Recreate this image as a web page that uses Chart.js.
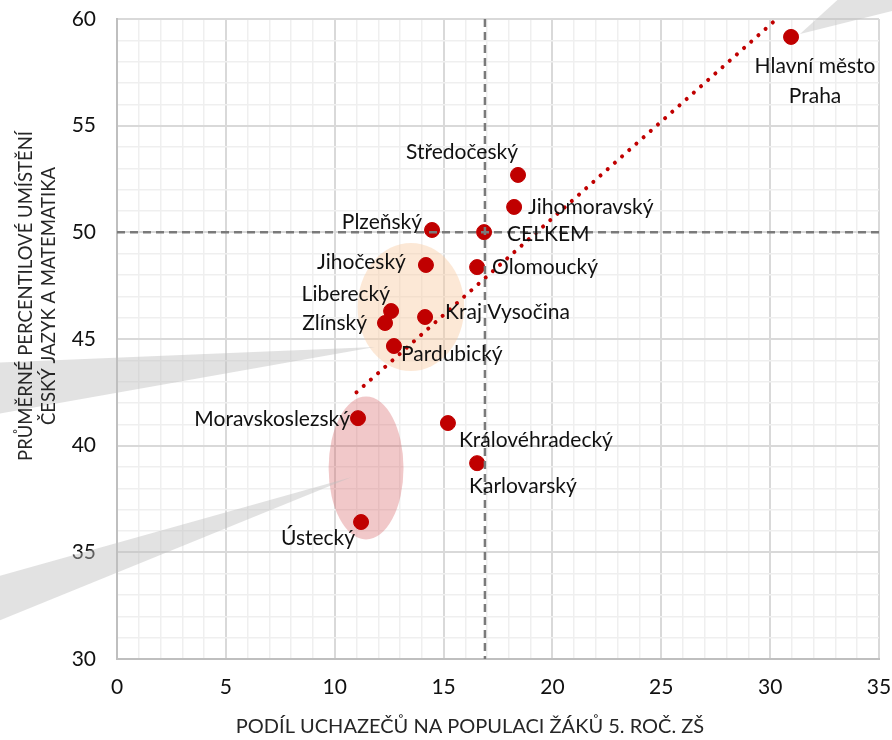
<!DOCTYPE html>
<html>
<head>
<meta charset="utf-8">
<script src="https://cdn.jsdelivr.net/npm/chart.js@4.4.1/dist/chart.umd.min.js"></script>
<style>
  body { margin: 0; background: #fff; }
  canvas { display: block; }
</style>
</head>
<body>
<canvas id="scatter" width="892" height="740"></canvas>
<script>
// kraje
const regions = ['Hlavní město Praha', 'Středočeský', 'Jihomoravský', 'Plzeňský', 'CELKEM', 'Jihočeský',
  'Olomoucký', 'Liberecký', 'Zlínský', 'Kraj Vysočina', 'Pardubický', 'Moravskoslezský',
  'Královéhradecký', 'Karlovarský', 'Ústecký'];
// podíl uchazečů (%)
const share = [30.96, 18.42, 18.24, 14.47, 16.86, 14.19, 16.54, 12.59, 12.31, 14.15, 12.72, 11.07, 15.20, 16.54, 11.21];
// průměrné percentilové umístění
const percentile = [59.16, 52.69, 51.19, 50.11, 50.01, 48.47, 48.37, 46.31, 45.75, 46.03, 44.67, 41.29, 41.06, 39.18, 36.42];

// lineární trend
const trendX = [11.0, 30.3];
const trendY = [42.5, 60.0];

// průměr (CELKEM)
const refX = 16.9;
const refY = 50;

const xTicks = [0, 5, 10, 15, 20, 25, 30, 35];
const yTicks = [30, 35, 40, 45, 50, 55, 60];

// label placement: [dx, dy, align]
const labelPos = [
  [24, 29, 'center'], [-56, -23, 'center'], [14, 0, 'left'], [-10, -8, 'right'], [23, 2, 'left'],
  [-20, -3, 'right'], [15, 0, 'left'], [-1, -17, 'right'], [-18, 0, 'right'], [20, -5, 'left'],
  [7, 8, 'left'], [-8, 1, 'right'], [11, 17, 'left'], [-8, 23, 'left'], [-6, 16, 'right']
];

// zvýraznění skupin (data coords)
const ellipses = [
  { cx: 13.5, cy: 46.5, rx: 2.45, ry: 3.0, color: 'rgba(248, 203, 163, 0.45)' },
  { cx: 11.44, cy: 38.95, rx: 1.72, ry: 3.35, color: 'rgba(214, 96, 100, 0.35)' }
];
// callout wedges (data coords, may run off the plot)
const wedges = [
  [[11.85, 44.62], [-5.4, 43.9], [-5.4, 41.5]],
  [[10.79, 38.53], [-5.4, 33.9], [-5.4, 31.8]],
  [[31.37, 59.3], [33.1, 60.9], [35.7, 60.9], [35.7, 60.4]]
];

const FONT = 'Lato, "Open Sans", sans-serif';

const deco = {
  id: 'deco',
  beforeDatasetsDraw(chart) {
    const { ctx, scales: { x, y } } = chart;
    ctx.save();
    ellipses.forEach(e => {
      const cx = x.getPixelForValue(e.cx), cy = y.getPixelForValue(e.cy);
      const rx = Math.abs(x.getPixelForValue(e.cx + e.rx) - cx);
      const ry = Math.abs(y.getPixelForValue(e.cy + e.ry) - cy);
      ctx.fillStyle = e.color;
      ctx.beginPath();
      ctx.ellipse(cx, cy, rx, ry, 0, 0, Math.PI * 2);
      ctx.fill();
    });
    ctx.fillStyle = 'rgba(190, 190, 190, 0.45)';
    wedges.forEach(w => {
      ctx.beginPath();
      w.forEach((p, i) => {
        const px = x.getPixelForValue(p[0]), py = y.getPixelForValue(p[1]);
        if (i === 0) ctx.moveTo(px, py); else ctx.lineTo(px, py);
      });
      ctx.closePath();
      ctx.fill();
    });

    // axis titles
    ctx.fillStyle = '#262626';
    ctx.textAlign = 'center';
    ctx.textBaseline = 'middle';
    ctx.font = '20px ' + FONT;
    ctx.fillText('PODÍL UCHAZEČŮ NA POPULACI ŽÁKŮ 5. ROČ. ZŠ', 470, 727);
    ctx.font = '18.5px ' + FONT;
    ctx.save();
    ctx.translate(26, 296);
    ctx.rotate(-Math.PI / 2);
    ctx.fillText('PRŮMĚRNÉ PERCENTILOVÉ UMÍSTĚNÍ', 0, 0);
    ctx.fillText('ČESKÝ JAZYK A MATEMATIKA', 0, 23);
    ctx.restore();
    ctx.restore();
  },
  afterDatasetsDraw(chart) {
    const { ctx, chartArea: a, scales: { x, y } } = chart;
    ctx.save();
    ctx.strokeStyle = '#7a7a7a';
    ctx.lineWidth = 2.5;
    ctx.setLineDash([8, 5]);
    const rx = x.getPixelForValue(refX), ry = y.getPixelForValue(refY);
    ctx.beginPath();
    ctx.moveTo(rx, a.top); ctx.lineTo(rx, a.bottom);
    ctx.moveTo(a.left, ry); ctx.lineTo(a.right, ry);
    ctx.stroke();
    ctx.setLineDash([]);

    ctx.fillStyle = '#111';
    ctx.font = '21px ' + FONT;
    ctx.textBaseline = 'middle';
    regions.forEach((name, i) => {
      const px = x.getPixelForValue(share[i]), py = y.getPixelForValue(percentile[i]);
      const [dx, dy, al] = labelPos[i];
      ctx.textAlign = al;
      if (i === 0) {
        ctx.fillText('Hlavní město', px + dx, py + dy);
        ctx.fillText('Praha', px + dx, py + dy + 30);
      } else {
        ctx.fillText(name, px + dx, py + dy);
      }
    });
    ctx.restore();
  }
};

const gridColor = c => c.tick && c.tick.value % 5 === 0 ? '#d9d9d9' : '#efefef';
const gridWidth = c => c.tick && c.tick.value % 5 === 0 ? 2 : 1.5;

const ctx = document.getElementById('scatter');
const chart = new Chart(ctx, {
  type: 'scatter',
  data: {
    datasets: [
      {
        label: 'Kraje',
        data: share.map((v, i) => ({ x: v, y: percentile[i] })),
        backgroundColor: '#c00000',
        borderColor: '#c00000',
        pointRadius: 7.5,
        pointHoverRadius: 7.5,
        order: 2
      },
      {
        type: 'line',
        label: 'Trend',
        data: trendX.map((v, i) => ({ x: v, y: trendY[i] })),
        borderColor: '#c00000',
        borderWidth: 4,
        borderDash: [0.1, 9.5],
        borderCapStyle: 'round',
        pointRadius: 0,
        fill: false,
        order: 1
      }
    ]
  },
  options: {
    responsive: false,
    animation: false,
    devicePixelRatio: 1,
    layout: { padding: { top: 19, right: 13, left: 0, bottom: 0 } },
    plugins: { legend: { display: false }, tooltip: { enabled: false } },
    scales: {
      x: {
        type: 'linear',
        min: 0, max: 35,
        ticks: {
          stepSize: 1,
          autoSkip: false,
          maxRotation: 0,
          padding: 16,
          color: '#111',
          font: { family: FONT, size: 21 },
          callback: v => xTicks.includes(v) ? v : ''
        },
        grid: { drawTicks: false, color: gridColor, lineWidth: gridWidth },
        border: { color: '#bfbfbf', width: 2 },
        afterFit: s => { s.height = 81; s.paddingLeft = 0; s.paddingRight = 0; }
      },
      y: {
        type: 'linear',
        min: 30, max: 60,
        ticks: {
          stepSize: 1,
          autoSkip: false,
          padding: 21,
          color: '#111',
          font: { family: FONT, size: 21 },
          callback: v => yTicks.includes(v) ? v : ''
        },
        grid: { drawTicks: false, color: gridColor, lineWidth: gridWidth },
        border: { color: '#bfbfbf', width: 2 },
        afterFit: s => { s.width = 117; s.paddingTop = 0; s.paddingBottom = 0; }
      }
    }
  },
  plugins: [deco]
});
</script>
</body>
</html>
